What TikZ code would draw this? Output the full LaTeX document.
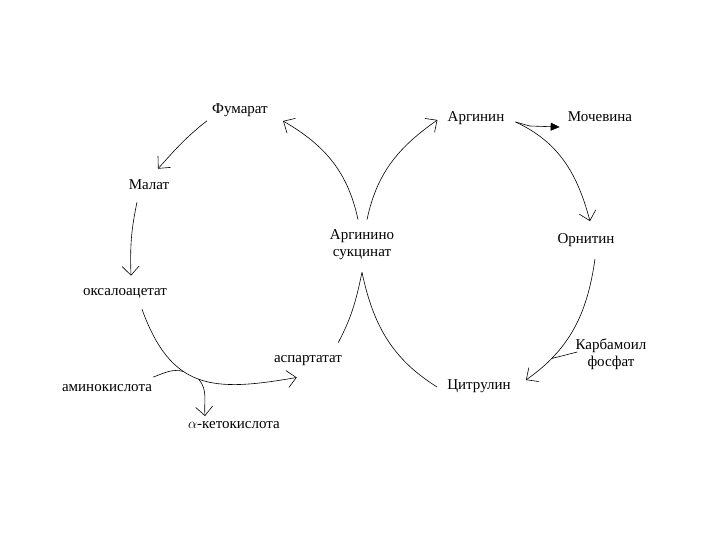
\documentclass[tikz,border=0pt]{standalone}
\usepackage{fontspec}
\setmainfont{Liberation Serif}
\usetikzlibrary{positioning, arrows.meta, calc}

\begin{document}
\begin{tikzpicture}[
    x=1pt, y=1pt,
    font=\fontsize{15}{17}\selectfont,
    line width=0.6pt,
    metab/.style={inner sep=1pt, align=center},
    arrow/.style={-{Straight Barb[length=9pt, width=17pt]}},
    ureaarrow/.style={-{Triangle[length=9pt, width=8pt]}}
]
\useasboundingbox (0,0) rectangle (720,540);

\node[metab] (fumarat) at (240,430) {Фумарат};
\node[metab] (malat) at (149,355) {Малат};
\node[metab] (oxalo) at (125,247) {оксалоацетат};
\node[metab] (amino) at (107,152) {аминокислота};
\node[metab] (keto) at (234,115) {$\alpha$-кетокислота};
\node[metab] (aspart) at (308,179) {аспартатат};
\node[metab] (argsuc) at (362,295) {Аргинино\\сукцинат};
\node[metab] (arginin) at (476,422) {Аргинин};
\node[metab] (mochevina) at (600,423) {Мочевина};
\node[metab] (ornitin) at (586,300) {Орнитин};
\node[metab] (karbam) at (611,186) {Карбамоил\\фосфат};
\node[metab] (citrulin) at (479,154) {Цитрулин};

\coordinate (apex) at ([yshift=-11pt]argsuc.south);

\draw[arrow] ([shift={(-4,-3)}]fumarat.south west) to[out=218, in=48] ([shift={(9,10)}]malat.north);
\draw[arrow] ([shift={(-12,-11)}]malat.south) to[out=258, in=92] ([shift={(6,11)}]oxalo.north);
\draw[arrow] ([shift={(17,-10)}]oxalo.south) to[out=-70, in=190, looseness=1.3]
    coordinate[pos=0.39] (aminoin) coordinate[pos=0.5] (ketoout) ([shift={(24,-10)}]aspart.south west);
\draw ([shift={(0,6)}]amino.north east) to[out=20, in=165] (aminoin);
\draw[arrow] (ketoout) to[out=-50, in=95] ([shift={(-29,4)}]keto.north);

\draw ([shift={(-5,12)}]aspart.north east) to[out=62, in=258] (apex);
\draw (apex) to[out=-78, in=148] ([shift={(-9,-1)}]citrulin.west);
\draw[arrow] ([shift={(-4,9)}]argsuc.north) to[out=102, in=-30] ([shift={(14,-11)}]fumarat.east);
\draw[arrow] ([shift={(5,9)}]argsuc.north) to[out=78, in=215] ([shift={(-9,-2)}]arginin.west);

\draw[arrow] ([shift={(10,-4)}]arginin.east) coordinate (argout) to[out=-25, in=105] ([shift={(4,11)}]ornitin.north);
\draw[ureaarrow] (argout) -- ++(14,-4) -- ([shift={(-7,-10)}]mochevina.west);
\draw[arrow] ([shift={(9,-11)}]ornitin.south) to[out=-98, in=35] coordinate[pos=0.78] (karbin) ([shift={(14,6)}]citrulin.east);
\draw ([shift={(3,2)}]karbam.west) -- (karbin);

\end{tikzpicture}
\end{document}
